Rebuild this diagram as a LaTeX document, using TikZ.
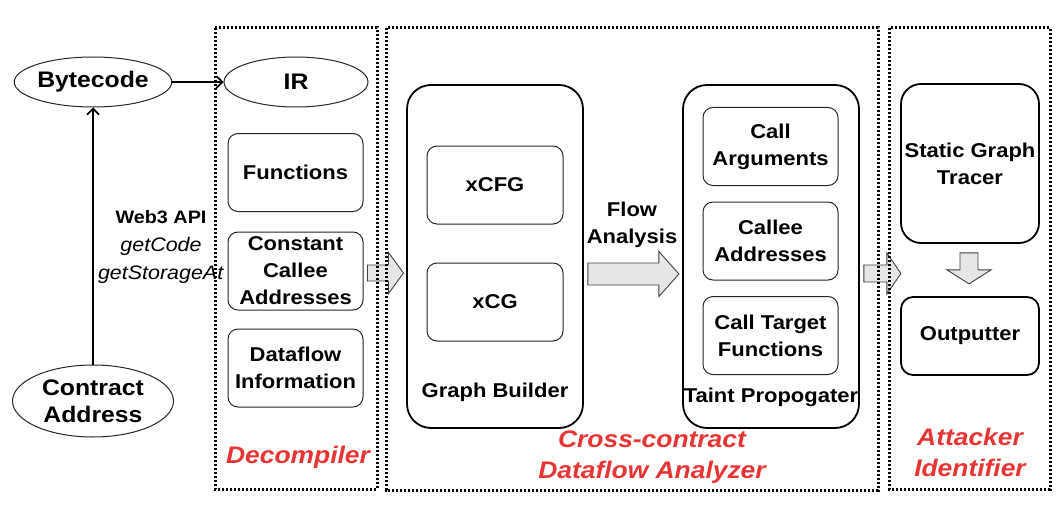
\documentclass[tikz,border=0pt]{standalone}
\usepackage{fontspec}
\setmainfont{Liberation Sans}[FakeStretch=1.1]
\usetikzlibrary{shapes.geometric,arrows.meta,calc}
\definecolor{zonered}{RGB}{232,52,52}
\definecolor{arrowgray}{RGB}{230,230,230}
\newcommand{\blockarrow}[6]{%
  \begin{scope}[shift={(#1)},rotate=#2]
    \filldraw[blockfill] (0,-#4) -- (#3-#6,-#4) -- (#3-#6,-#5) -- (#3,0) -- (#3-#6,#5) -- (#3-#6,#4) -- (0,#4) -- cycle;
  \end{scope}}
\begin{document}
\begin{tikzpicture}[x=1pt,y=-1pt,
  oval/.style={draw=black!85,line width=1pt,ellipse,inner sep=0pt,align=center,font=\fontsize{22.5}{27}\selectfont\bfseries},
  subbox/.style={draw=black!85,line width=1pt,rounded corners=10pt,minimum width=135pt,minimum height=78pt,inner sep=0pt,align=center,font=\fontsize{20}{27}\selectfont\bfseries},
  bigbox/.style={draw,line width=1.8pt,rounded corners=24pt,inner sep=0pt},
  boxlabel/.style={align=center,font=\fontsize{20}{27}\selectfont\bfseries},
  redlabel/.style={text=zonered,align=center,font=\fontsize{24}{30.5}\selectfont\bfseries\itshape},
  zone/.style={line width=3pt,dash pattern=on 2.4pt off 1.6pt},
  link/.style={line width=1.6pt,-{Straight Barb[length=6pt,width=12pt]}},
  blockfill/.style={fill=arrowgray,draw=black!75,line width=0.9pt}]
\useasboundingbox (0,0) rectangle (1064,516);
\node[oval,minimum width=143pt,minimum height=50pt] (byte) at (93,82) {Bytecode};
\node[oval,minimum width=144pt,minimum height=50pt] (ir) at (296,82) {IR};
\node[oval,minimum width=161pt,minimum height=72pt] (addr) at (93,401) {Contract\\Address};
\node[align=center,font=\fontsize{19.5}{27.5}\selectfont] (api) at (161,247) {{\fontsize{18}{27.5}\selectfont\bfseries Web3 API}\\\textit{getCode}\\\textit{getStorageAt}};
\draw[link] (byte) -- (ir);
\draw[link] (addr) -- (byte);
\node[subbox] (func) at (295.5,172.5) {Functions};
\node[subbox] (cst) at (295.5,271) {Constant\\Callee\\Addresses};
\node[subbox] (dfi) at (295.5,368) {Dataflow\\Information};
\node[bigbox,minimum width=176pt,minimum height=343pt] (builder) at (495,256.5) {};
\node[subbox,minimum width=136pt] (xcfg) at (495,185) {xCFG};
\node[subbox,minimum width=136pt] (xcg) at (495,302) {xCG};
\node[boxlabel] (builderlbl) at (495,392) {Graph Builder};
\node[bigbox,minimum width=176pt,minimum height=343pt] (taint) at (771,256.5) {};
\node[subbox] (args) at (770.5,146.5) {Call\\Arguments};
\node[subbox] (callee) at (770.5,241) {Callee\\Addresses};
\node[subbox] (target) at (770.5,335.5) {Call Target\\Functions};
\node[boxlabel] (taintlbl) at (771,397) {Taint Propogater};
\node[boxlabel] (flow) at (632,225) {Flow\\Analysis};
\node[bigbox,boxlabel,rounded corners=20pt,minimum width=138pt,minimum height=159pt] (tracer) at (970,163.5) {Static Graph\\Tracer};
\node[bigbox,boxlabel,rounded corners=12pt,minimum width=138pt,minimum height=78pt] (out) at (970,336) {Outputter};
\blockarrow{$(cst.east)+(4,2)$}{0}{36}{8}{20.5}{15}
\blockarrow{$(builder.east)+(4,17.5)$}{0}{91}{11}{22.5}{20}
\blockarrow{$(taint.east)+(4,17)$}{0}{37}{8.5}{20.5}{14}
\blockarrow{$(tracer.south)+(-1,9)$}{-90}{31}{9}{22}{14}
\node[redlabel] (decomplbl) at (298,457) {Decompiler};
\node[redlabel] (crosslbl) at (652,457) {Cross-contract\\Dataflow Analyzer};
\node[redlabel,font=\fontsize{24}{31}\selectfont\bfseries\itshape] (attacklbl) at (970,452.5) {Attacker\\Identifier};
\draw[zone] (215,28) rectangle (377,489);
\draw[zone] (386,28) rectangle (878,490);
\draw[zone] (889,28) rectangle (1050,489);
\end{tikzpicture}
\end{document}
